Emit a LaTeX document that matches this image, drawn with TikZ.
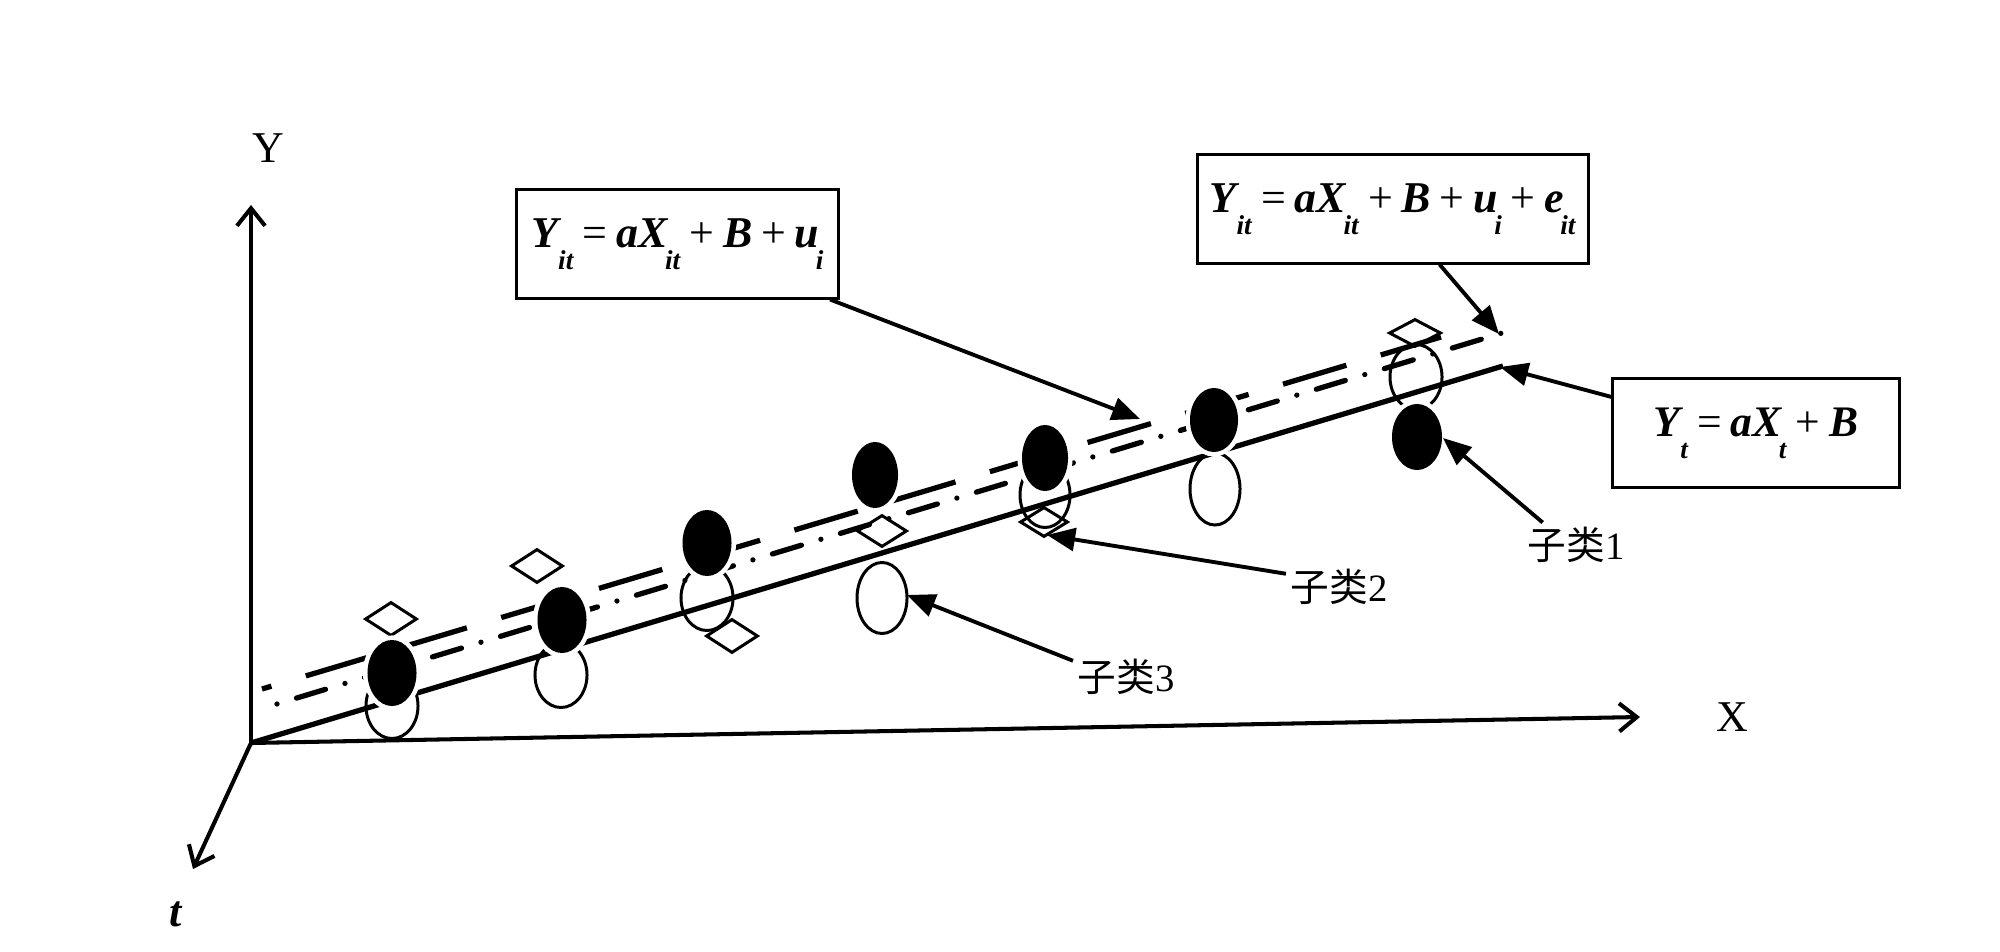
\documentclass[tikz,border=0pt]{standalone}
\usepackage{fontspec}
\setmainfont{Liberation Serif}
\newfontfamily\cjk{Noto Sans CJK SC}
\usetikzlibrary{shapes.geometric,arrows.meta}
\newcommand{\bi}[1]{\textbf{\textit{#1}}}
\newcommand{\lsub}[1]{\hspace{-0.08em}\raisebox{-0.5em}{\scalebox{0.62}{\bi{#1}}}}
\newcommand{\opr}[1]{\hspace{0.2em}#1\hspace{0.2em}}
\begin{document}
\begin{tikzpicture}[x=0.01cm,y=-0.01cm,
  axis/.style={line width=1.15pt,-{Straight Barb[length=5pt,width=8pt]}},
  conn/.style={line width=1.1pt,-{Triangle[length=8pt,width=6.5pt]}},
  box/.style={draw,line width=0.85pt,minimum height=1.08cm,inner sep=0pt},
  fdot/.style={ellipse,fill=black,inner sep=0pt,minimum width=0.49cm,minimum height=0.66cm,preaction={draw=white,line width=2.6pt}},
  odot/.style={ellipse,draw,line width=0.85pt,inner sep=0pt,minimum width=0.52cm,minimum height=0.65cm},
  dia/.style={diamond,draw,line width=0.85pt,inner sep=0pt,minimum width=0.52cm,minimum height=0.34cm},
  lab/.style={inner sep=0.04cm,font=\fontsize{11pt}{13pt}\selectfont},
  axlab/.style={inner sep=0pt,font=\fontsize{12.5pt}{15pt}\selectfont},
  mainline/.style={line width=1.5pt},
  longdash/.style={line width=1.5pt,dash pattern=on 18.8pt off 10.2pt,dash phase=16pt},
  dashdot/.style={line width=1.5pt,line cap=round,dash pattern=on 0pt off 5.8pt on 8.6pt off 5.8pt}]
\useasboundingbox (0,0) rectangle (2000,952);

% axes
\coordinate (O) at (251,743);
\coordinate (Ytop) at (251,205);
\coordinate (Xend) at (1640,717);
\coordinate (tend) at (193,869);
\draw[axis] (O) -- (Ytop);
\draw[axis] (O) -- (Xend);
\draw[axis] (O) -- (tend);
\node[axlab] (Ylab) at (268,148) {Y};
\node[axlab] (Xlab) at (1732,717) {X};
\node[axlab] (tlab) at (176,914) {\bi{t}};

% regression lines
\coordinate (s1) at (1503,366);
\coordinate (u0) at (262,689);
\coordinate (u1) at (1441,337);
\coordinate (l0) at (277,704);
\coordinate (l1) at (1502,333);
\draw[mainline] (O) -- (s1);
\draw[longdash] (u0) -- (u1);
\draw[dashdot] (l0) -- (l1);

% open ellipses
\node[odot] (o1) at (392,706) {};
\node[odot] (o2) at (561,675) {};
\node[odot] (o3) at (707,598) {};
\node[odot,minimum height=0.71cm,minimum width=0.5cm] (o4) at (882,598) {};
\node[odot,minimum width=0.5cm] (o5) at (1045,495) {};
\node[odot,minimum height=0.72cm,minimum width=0.5cm] (o6) at (1215,489) {};
\node[odot] (o7) at (1416,377) {};

% diamonds
\node[dia] (d1) at (391,619) {};
\node[dia] (d2) at (537,566) {};
\node[dia] (d3) at (732,636) {};
\node[dia,minimum width=0.5cm,minimum height=0.32cm] (d4) at (882,531) {};
\node[dia,minimum width=0.48cm,minimum height=0.3cm] (d5) at (1044,522) {};
\node[dia,minimum height=0.28cm] (d7) at (1415,333) {};

% filled ellipses
\node[fdot] (f1) at (392,673) {};
\node[fdot] (f2) at (562,620) {};
\node[fdot] (f3) at (707,543) {};
\node[fdot,minimum width=0.46cm] (f4) at (875,475) {};
\node[fdot,minimum width=0.46cm] (f5) at (1045,458) {};
\node[fdot,minimum width=0.48cm,minimum height=0.64cm] (f6) at (1214,420) {};
\node[fdot,minimum width=0.5cm] (f7) at (1417,437) {};

% formula boxes
\node[box,minimum width=3.21cm,font=\fontsize{12.5pt}{15pt}\selectfont] (b1) at (677.5,244)
  {\bi{Y}\lsub{it}\opr{=}\bi{aX}\lsub{it}\opr{+}\bi{B}\opr{+}\bi{u}\lsub{i}};
\node[box,minimum width=3.9cm,font=\fontsize{12.5pt}{15pt}\selectfont] (b2) at (1393,209)
  {\bi{Y}\lsub{it}\opr{=}\bi{aX}\lsub{it}\opr{+}\bi{B}\opr{+}\bi{u}\lsub{i}\opr{+}\bi{e}\lsub{it}};
\node[box,minimum width=2.86cm,font=\fontsize{12.4pt}{15pt}\selectfont] (b3) at (1756,433)
  {\bi{Y}\lsub{t}\opr{=}\bi{aX}\lsub{t}\opr{+}\bi{B}};

% class labels
\node[lab] (c1) at (1576,545) {{\cjk 子类}1};
\node[lab] (c2) at (1339,587) {{\cjk 子类}2};
\node[lab] (c3) at (1126,677) {{\cjk 子类}3};

% connector targets
\coordinate (t1) at (1140,419);
\coordinate (t2) at (1499,334);
\coordinate (t3) at (1500,367);
\coordinate (k1) at (1443,438);
\coordinate (k2) at (1047,535);
\coordinate (k3) at (907,595);

\draw[conn] (b1.-20.3) -- (t1);
\draw[conn] (b2.-50.8) -- (t2);
\draw[conn] (b3.166) -- (t3);
\draw[conn] (c1.146) -- (k1);
\draw[conn] (c2.166) -- (k2);
\draw[conn] (c3.163) -- (k3);
\end{tikzpicture}
\end{document}
